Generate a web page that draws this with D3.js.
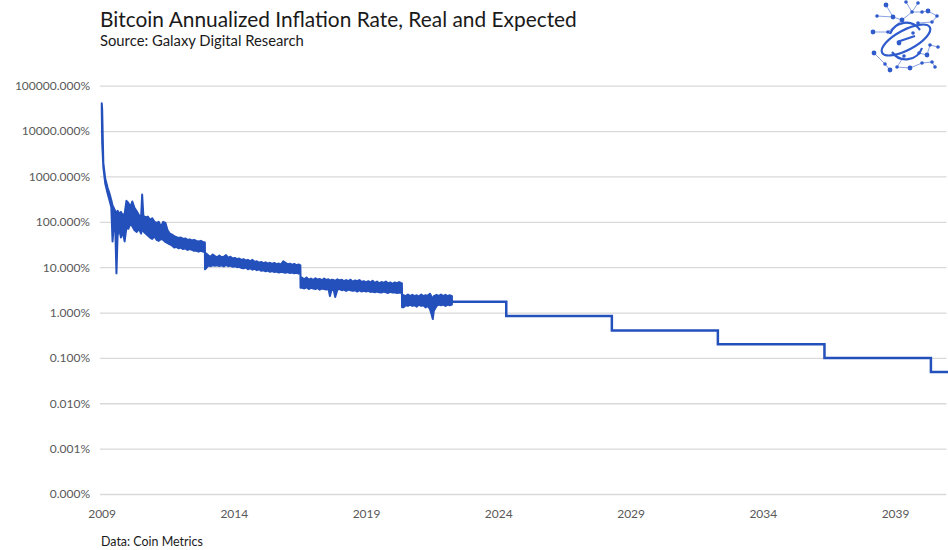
<!DOCTYPE html>
<html>
<head>
<meta charset="utf-8">
<script src="https://cdn.jsdelivr.net/npm/d3@7/dist/d3.min.js"></script>
<style>
  body { margin: 0; background: #fff; }
  text { font-family: Lato, "Open Sans", sans-serif; }
</style>
</head>
<body>
<div id="chart"></div>
<script>
var realDates = ["2009-01-03","2009-01-09","2009-01-25","2009-02-20","2009-03-25","2009-04-20","2009-05-15",
  "2009-06-01","2009-06-20","2009-07-10","2009-07-25","2009-08-10","2009-09-01","2009-09-25","2009-10-20","2009-11-15","2009-12-10",
  "2010-01-05","2010-02-01","2010-03-01","2010-04-01","2010-05-01","2010-06-01","2010-07-01","2010-07-15","2010-08-01","2010-09-01","2010-10-01","2010-11-01","2010-12-01",
  "2011-01-01","2011-02-01","2011-03-01","2011-04-01","2011-05-01","2011-06-01","2011-07-01","2011-08-01","2011-09-01","2011-10-01","2011-11-01","2011-12-01",
  "2012-01-01","2012-02-01","2012-03-01","2012-04-01","2012-05-01","2012-06-01","2012-07-01","2012-08-01","2012-09-01","2012-10-01","2012-11-01","2012-11-27","2012-11-29",
  "2012-12-15","2013-01-15","2013-02-15","2013-03-15","2013-04-15","2013-05-15","2013-06-15","2013-07-15","2013-08-15","2013-09-15","2013-10-15","2013-11-15","2013-12-15",
  "2014-01-15","2014-02-15","2014-03-15","2014-04-15","2014-05-15","2014-06-15","2014-07-15","2014-08-15","2014-09-15","2014-10-15","2014-11-15","2014-12-15",
  "2015-01-15","2015-02-15","2015-03-15","2015-04-15","2015-05-15","2015-06-15","2015-07-15","2015-08-15","2015-09-15","2015-10-15","2015-11-15","2015-12-15",
  "2016-01-15","2016-02-15","2016-03-15","2016-04-15","2016-05-15","2016-06-15","2016-07-08","2016-07-10",
  "2016-08-01","2016-09-01","2016-10-01","2016-11-01","2016-12-01",
  "2017-01-01","2017-02-01","2017-03-01","2017-04-01","2017-05-01","2017-06-01","2017-07-01","2017-08-01","2017-08-20","2017-09-10","2017-10-10","2017-11-01","2017-12-01",
  "2018-01-01","2018-02-01","2018-03-01","2018-04-01","2018-05-01","2018-06-01","2018-07-01","2018-08-01","2018-09-01","2018-10-01","2018-11-01","2018-12-01",
  "2019-01-01","2019-02-01","2019-03-01","2019-04-01","2019-05-01","2019-06-01","2019-07-01","2019-08-01","2019-09-01","2019-10-01","2019-11-01","2019-12-01",
  "2020-01-01","2020-02-01","2020-03-01","2020-04-01","2020-05-10","2020-05-12","2020-06-01","2020-07-01","2020-08-01","2020-09-01","2020-10-01","2020-11-01","2020-12-01",
  "2021-01-01","2021-02-01","2021-03-01","2021-04-01","2021-05-01","2021-06-01","2021-06-25","2021-07-10","2021-07-25","2021-09-01","2021-10-01","2021-11-01","2021-12-01",
  "2022-01-01","2022-02-01","2022-03-01","2022-04-01"];

var realHigh = [41000,30000,2000,900,560,420,300,
  230,200,170,160,175,150,165,140,150,290,
  260,210,280,200,170,140,130,400,135,125,130,110,120,
  100,95,100,78,100,95,65,55,52,48,46,44,
  45,42,43,40,41,39,40,38,37,38,36,35,19,
  20,18,17,19,17.5,16.5,18,16.5,17,18.5,16,17,15.5,
  16,15,15.5,14.5,15,14,14.5,13.5,14.5,13,13.5,12.5,
  13,12.2,12.8,12,12.5,11.8,12.4,11.6,12,11.5,13.5,12.5,
  11.5,12,11.2,11.8,11,11.5,11,6.2,
  5.8,5.4,5.9,5.3,5.6,
  5.2,5.7,5.3,5.5,5.1,5.6,5.2,5.4,5.0,5.3,5.2,5.0,5.4,
  5.1,5.3,4.9,5.2,4.9,5.3,4.8,5.1,4.9,5.2,4.7,4.9,
  4.6,4.9,4.6,5.0,4.5,4.8,4.4,4.7,4.5,4.8,4.4,4.6,
  4.3,4.6,4.4,4.7,4.4,2.5,2.4,2.3,2.5,2.3,2.45,2.3,2.4,
  2.25,2.5,2.3,2.4,2.35,2.6,2.2,2.0,2.3,2.45,2.3,2.5,2.3,
  2.45,2.3,2.4,2.3];

var realLow = [30000,5400,1600,700,420,300,210,
  37,90,60,7.3,50,70,45,60,37,75,
  70,90,80,65,60,70,55,80,62,55,50,45,42,
  48,40,38,42,40,36,34,32,30,27,28,26,
  27,25,26,24,25,24,23,23,22,23,22,22,9,
  9.5,11,10.5,11,10.8,11,10.6,11,10.4,11.2,10.5,10.8,10.2,
  10.5,10,10.2,9.6,9.4,9.8,9,9.5,8.8,9.2,8.6,9,
  8.3,8.5,8.1,8.4,7.9,8.2,7.8,8,7.6,7.9,7.7,7.5,
  7.8,7.4,7.6,7.3,7.5,7.2,7.4,3.5,
  3.5,3.4,3.6,3.3,3.5,
  3.4,3.3,3.5,3.2,3.4,3.3,3.2,3.3,2.3,3.1,3.2,2.2,3.2,
  3.3,3.1,3.2,3.0,3.2,3.1,3.0,3.1,2.9,3.1,2.9,3.0,
  2.9,3.0,2.85,2.9,2.8,2.9,2.8,2.75,2.9,2.8,2.7,2.85,
  2.75,2.8,2.7,2.75,2.7,1.3,1.3,1.45,1.4,1.5,1.4,1.45,1.35,
  1.5,1.4,1.45,1.3,1.4,1.2,0.9,0.72,1.1,1.4,1.5,1.45,1.5,
  1.4,1.5,1.45,1.5];

// expected inflation after the last observation, one level per halving era, in %
var expectedDates = ["2022-04-01","2024-04-20","2028-04-17","2032-04-20","2036-05-01","2040-05-10","2041-03-01"];
var expectedValues = [1.72, 0.84, 0.40, 0.20, 0.099, 0.049, 0.049];

var yTicks = [0.0001, 0.001, 0.01, 0.1, 1, 10, 100, 1000, 10000, 100000];
var xTickYears = [2009, 2014, 2019, 2024, 2029, 2034, 2039];

var W = 948, H = 550;
var plotLeft = 101.6, plotRight = 948, plotTop = 85.7, plotBottom = 494;
var blue = "#2450BC";

var parse = d3.timeParse("%Y-%m-%d");

var real = realDates.map(function(d, i) {
  return { date: parse(d), hi: realHigh[i], lo: realLow[i] };
});
var expected = expectedDates.map(function(d, i) {
  return { date: parse(d), value: expectedValues[i] };
});

var x = d3.scaleTime()
  .domain([new Date(2009, 0, 1), new Date(2041, 0, 1)])
  .range([plotLeft, plotRight]);
var y = d3.scaleLog()
  .domain([0.0001, 100000])
  .range([plotBottom, plotTop]);

var svg = d3.select("#chart").append("svg")
  .attr("width", W)
  .attr("height", H);

svg.append("rect").attr("width", W).attr("height", H).attr("fill", "#fff");

svg.append("clipPath").attr("id", "plot")
  .append("rect")
  .attr("x", plotLeft - 4).attr("y", plotTop - 20)
  .attr("width", plotRight - plotLeft + 4).attr("height", plotBottom - plotTop + 40);

// y gridlines + labels
var yAxis = svg.append("g")
  .attr("transform", "translate(" + (plotLeft - 1.6) + ",0)")
  .call(d3.axisLeft(y)
    .tickValues(yTicks)
    .tickSize(-(W - plotLeft))
    .tickPadding(10)
    .tickFormat(function(v) { return d3.format(".3f")(v) + "%" }));
yAxis.select(".domain").remove();
yAxis.selectAll(".tick line").attr("stroke", "#d9d9d9").attr("stroke-width", 1.3);
yAxis.selectAll(".tick text")
  .attr("fill", "#595959")
  .style("font-size", "12px")
  .style("font-family", "Lato, sans-serif");

// x labels only
var xAxis = svg.append("g")
  .attr("transform", "translate(0," + (plotBottom + 9) + ")")
  .call(d3.axisBottom(x)
    .tickValues(xTickYears.map(function(yr) { return new Date(yr, 0, 1) }))
    .tickSize(0)
    .tickPadding(6)
    .tickFormat(d3.timeFormat("%Y")));
xAxis.select(".domain").remove();
xAxis.selectAll(".tick text")
  .attr("fill", "#595959")
  .style("font-size", "12px")
  .style("font-family", "Lato, sans-serif");

var g = svg.append("g").attr("clip-path", "url(#plot)");

var band = d3.area()
  .x(function(d) { return x(d.date) })
  .y0(function(d) { return y(d.lo) })
  .y1(function(d) { return y(d.hi) });

g.append("path")
  .attr("d", band(real))
  .attr("fill", blue)
  .attr("stroke", blue)
  .attr("stroke-width", 2)
  .attr("stroke-linejoin", "round");

var step = d3.line()
  .x(function(d) { return x(d.date) })
  .y(function(d) { return y(d.value) })
  .curve(d3.curveStepAfter);

g.append("path")
  .attr("d", step(expected))
  .attr("fill", "none")
  .attr("stroke", blue)
  .attr("stroke-width", 2.5);

// titles, sized to the widths seen in the picture
function fitText(sel, width) {
  var len = sel.node().getComputedTextLength();
  var fs = parseFloat(sel.style("font-size"));
  sel.style("font-size", (fs * width / len) + "px");
}

var title = svg.append("text")
  .attr("x", 100).attr("y", 27)
  .attr("fill", "#1a1a1a")
  .style("font-size", "20px")
  .text("Bitcoin Annualized Inflation Rate, Real and Expected");
fitText(title, 477);

var sub = svg.append("text")
  .attr("x", 100).attr("y", 46)
  .attr("fill", "#1a1a1a")
  .style("font-size", "14px")
  .text("Source: Galaxy Digital Research");
fitText(sub, 204);

var foot = svg.append("text")
  .attr("x", 101).attr("y", 546)
  .attr("fill", "#1a1a1a")
  .style("font-size", "12px")
  .text("Data: Coin Metrics");
fitText(foot, 102);

// logo
var logoDots = [[886,5],[906,2],[918,3],[893,17],[912,12],[922,12],[928,11],[937,16],[877,16],[902,20],
  [918,23],[932,22],[873,32],[888,32],[913,33],[899,43],[938,47],[930,45],[874,53],[904,56],
  [919,53],[927,55],[885,64],[897,67],[910,68],[922,63],[932,62],[890,70],[935,67]];
var logoLinks = [[0,3],[1,4],[2,4],[4,5],[5,6],[6,7],[8,3],[3,9],[9,4],[10,11],[12,13],[13,9],[11,7],
  [16,17],[17,21],[18,22],[22,27],[23,24],[24,25],[25,26],[26,28],[20,21],[19,23]];
var logo = svg.append("g").attr("fill", "#2f5bcc").attr("stroke", "#2f5bcc");
logo.selectAll("line").data(logoLinks).enter().append("line")
  .attr("x1", function(d) { return logoDots[d[0]][0] })
  .attr("y1", function(d) { return logoDots[d[0]][1] })
  .attr("x2", function(d) { return logoDots[d[1]][0] })
  .attr("y2", function(d) { return logoDots[d[1]][1] })
  .attr("stroke-width", 0.8).attr("opacity", 0.7);
logo.selectAll("circle").data(logoDots).enter().append("circle")
  .attr("cx", function(d) { return d[0] })
  .attr("cy", function(d) { return d[1] })
  .attr("r", function(d, i) { return i % 3 == 0 ? 2.4 : 1.8 })
  .attr("stroke", "none");
logo.append("ellipse")
  .attr("cx", 906).attr("cy", 40).attr("rx", 27).attr("ry", 10)
  .attr("transform", "rotate(-28,906,40)")
  .attr("fill", "none").attr("stroke-width", 2.2);
logo.append("path")
  .attr("d", "M890,34 A17,17 0 0 1 920,30 M922,48 A17,17 0 0 1 892,52 M897,42 L915,36")
  .attr("fill", "none").attr("stroke-width", 2.2);
</script>
</body>
</html>
